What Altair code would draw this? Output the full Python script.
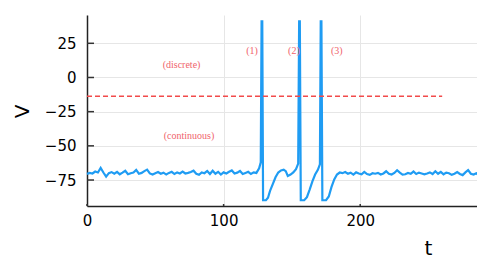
import altair as alt
import pandas as pd

# ---- data ----
t_pre = list(range(0, 127, 2))
v_pre = [-70.5, -69.8, -70.2, -68.8, -69.5, -66.2, -69.5, -72.5, -70.0, -69.2,
         -70.3, -69.0, -70.8, -69.6, -68.2, -70.8, -70.0, -69.5, -67.6, -70.4,
         -69.8, -68.5, -67.4, -70.2, -71.0, -70.0, -69.2, -70.4, -69.6, -71.0,
         -69.8, -69.0, -70.6, -69.4, -70.2, -68.8, -70.2, -69.8, -69.2, -68.2,
         -70.4, -71.2, -69.4, -70.0, -68.4, -70.6, -68.2, -70.4, -69.0, -71.0,
         -69.4, -70.2, -69.0, -68.0, -70.2, -69.6, -68.4, -70.6, -69.8, -69.0,
         -70.6, -69.4, -69.8, -66.5]
t_spk = [127.2, 127.8, 128.3, 128.9, 131, 132.5, 134, 136, 138, 140, 142, 144,
         145.5, 147, 149, 151, 153, 154.6, 155.3, 155.8, 156.5, 159, 161, 163,
         165, 167, 169, 170.5, 171.1, 171.6, 172.3, 175, 177, 179, 181, 183, 185, 187]
v_spk = [-62, 41, 41, -89.8, -89.8, -88, -83, -78, -73, -69.5, -68, -67.5,
         -68.5, -72, -71, -69.5, -67, -63, 41, 41, -89.8, -89.8, -87.5, -82,
         -76, -71, -67.5, -63.5, 41, 41, -89.8, -89.8, -87, -80, -74.5, -71, -69.5, -70]
t_post = list(range(189, 286, 2)) + [286]
v_post = [-69.2, -70.4, -69.6, -71.0, -69.4, -70.2, -70.8, -69.0, -70.6, -71.2,
          -70.0, -70.4, -69.8, -71.0, -70.2, -68.6, -70.4, -71.0, -69.8, -67.8,
          -69.6, -71.0, -70.8, -69.8, -70.4, -68.8, -70.6, -69.6, -70.2, -70.8,
          -70.2, -69.4, -70.6, -68.6, -70.4, -69.0, -70.8, -69.6, -70.0, -71.2,
          -70.4, -69.2, -70.6, -71.4, -69.4, -67.8, -70.4, -71.0, -70.0, -70.8]

threshold_t = [0, 260]
threshold_v = -13.7

label_text = ["(discrete)", "(continuous)", "(1)", "(2)", "(3)"]
label_t = [69.2, 74.7, 120.8, 151.5, 182.9]
label_v = [9.3, -42.5, 19.2, 19.2, 19.2]

x_ticks = [0, 100, 200]
y_ticks = [-75, -50, -25, 0, 25]

# ---- build ----
line_df = pd.DataFrame({"t": t_pre + t_spk + t_post, "V": v_pre + v_spk + v_post})
thr_df = pd.DataFrame({"t0": [threshold_t[0]], "t1": [threshold_t[1]], "V": [threshold_v]})
lab_df = pd.DataFrame({"t": label_t, "V": label_v, "txt": label_text})
xt_df = pd.DataFrame({"t": x_ticks})
yt_df = pd.DataFrame({"V": y_ticks})

W, H = 390, 191
xscale = alt.Scale(domain=[0, 285.5], nice=False, zero=False)
yscale = alt.Scale(domain=[-94, 45.7], nice=False, zero=False)
xaxis = alt.Axis(values=x_ticks, title="t", tickSize=0, labelPadding=7, labelFlush=False,
                 titleX=341, titleY=48, titleAlign="center", titleBaseline="alphabetic",
                 titleAnchor="start")
yaxis = alt.Axis(values=y_ticks, title="V", tickSize=0, labelPadding=11, labelFlush=False,
                 titleX=-59, titleY=96, titleAngle=270, titleAlign="center",
                 titleBaseline="alphabetic", titleAnchor="start")

def X(f):
    return alt.X(f, type="quantitative", scale=xscale, axis=xaxis)

def Y(f):
    return alt.Y(f, type="quantitative", scale=yscale, axis=yaxis)

line = alt.Chart(line_df).mark_line(color="#1f9cf3", strokeWidth=2.2).encode(
    x=X("t"), y=Y("V"))

thr = alt.Chart(thr_df).mark_rule(color="#f24b4b", strokeWidth=1.4, strokeDash=[5, 3]).encode(
    x=X("t0"), x2="t1", y=Y("V"))

labels = alt.Chart(lab_df).mark_text(font="Liberation Serif", fontSize=10,
                                      color="#f0636b").encode(
    x=X("t"), y=Y("V"), text="txt:N")

yt = alt.Chart(yt_df).mark_rule(color="#333333", strokeWidth=1.5).encode(
    x=alt.value(0), x2=alt.value(7), y=Y("V"))

xt = alt.Chart(xt_df).mark_rule(color="#333333", strokeWidth=1.5).encode(
    x=X("t"), y=alt.value(H), y2=alt.value(H - 2))

chart = alt.layer(line, thr, labels, yt, xt).properties(
    width=W, height=H,
    background="white",
    autosize=alt.AutoSizeParams(type="none"),
    padding={"left": 79, "top": 7, "right": 0, "bottom": 52},
).configure_view(stroke=None).configure_axis(
    grid=True, gridColor="#e6e6e6", gridWidth=1,
    domainColor="#222222", domainWidth=1.5,
    labelFont="DejaVu Sans", labelFontSize=15, labelColor="#000000",
    titleFont="DejaVu Sans", titleFontSize=20, titleFontWeight="normal", titleColor="#000000",
)

chart.save("out.html", embed_options={"renderer": "svg", "actions": False})
